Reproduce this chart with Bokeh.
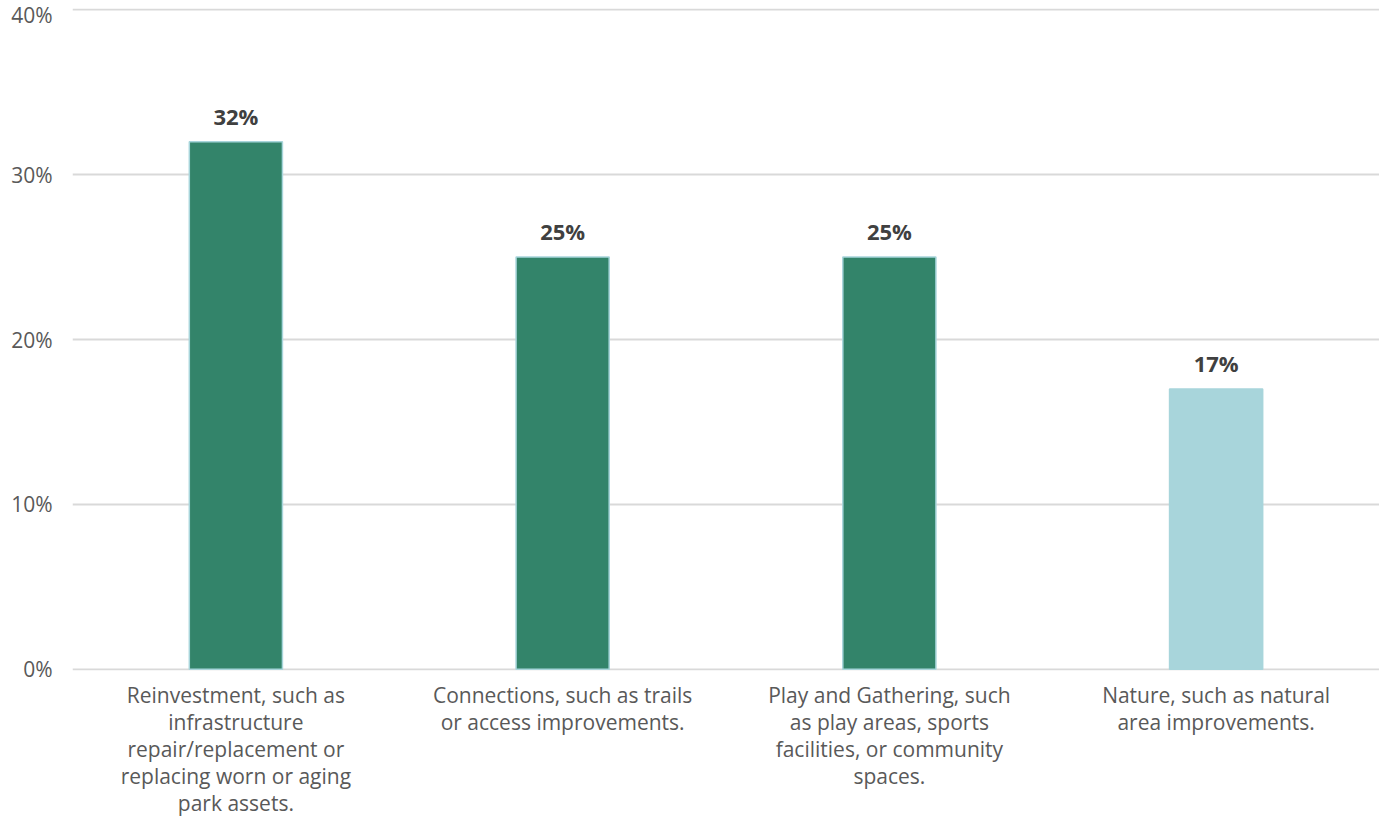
from bokeh.plotting import figure
from bokeh.models import FixedTicker, NumeralTickFormatter, ColumnDataSource, Range1d
from bokeh.core.properties import value
from bokeh.embed import file_html
from bokeh.resources import INLINE

category_labels = [
    "Reinvestment, such as\ninfrastructure\nrepair/replacement or\nreplacing worn or aging\npark assets.",
    "Connections, such as trails\nor access improvements.",
    "Play and Gathering, such\nas play areas, sports\nfacilities, or community\nspaces.",
    "Nature, such as natural\narea improvements.",
]
values = [0.32, 0.25, 0.25, 0.17]
value_labels = ["32%", "25%", "25%", "17%"]
colors = ["#33846A", "#33846A", "#33846A", "#A8D5DB"]
y_ticks = [0, 0.1, 0.2, 0.3, 0.4]

FONT = "Open Sans"

src = ColumnDataSource(dict(x=category_labels, top=values, color=colors, lab=value_labels))

p = figure(x_range=category_labels, y_range=Range1d(-0.0008, 0.4008), width=1379, height=820,
           output_backend="svg", toolbar_location=None,
           min_border_left=72, min_border_right=0, min_border_top=8, min_border_bottom=100)
p.outline_line_color = None
p.background_fill_color = "white"
p.border_fill_color = "white"

p.ygrid.grid_line_color = "#D9D9D9"
p.ygrid.grid_line_width = 2
p.ygrid.level = "underlay"
p.xgrid.grid_line_color = None

p.vbar(x="x", top="top", width=0.285, fill_color="color", line_color="#A8D5DB",
       line_width=1.5, source=src)
p.text(x="x", y="top", text="lab", source=src, text_align="center", text_baseline="bottom",
       y_offset=-11, text_font=value(FONT), text_font_style="bold", text_font_size="22px",
       text_color="#404040")

p.yaxis.ticker = FixedTicker(ticks=y_ticks)
p.yaxis.formatter = NumeralTickFormatter(format="0%")
p.yaxis.axis_line_color = None
p.yaxis.major_tick_line_color = None
p.yaxis.minor_tick_line_color = None
p.yaxis.major_label_text_font = FONT
p.yaxis.major_label_text_font_size = "21px"
p.yaxis.major_label_text_color = "#595959"
p.yaxis.major_label_standoff = 14

p.xaxis.axis_line_color = None
p.xaxis.major_tick_line_color = None
p.xaxis.minor_tick_line_color = None
p.xaxis.major_label_text_font = FONT
p.xaxis.major_label_text_font_size = "21px"
p.xaxis.major_label_text_color = "#595959"
p.xaxis.major_label_text_line_height = 0.97
p.xaxis.major_label_standoff = 4

open("out.html", "w").write(file_html(p, INLINE))
